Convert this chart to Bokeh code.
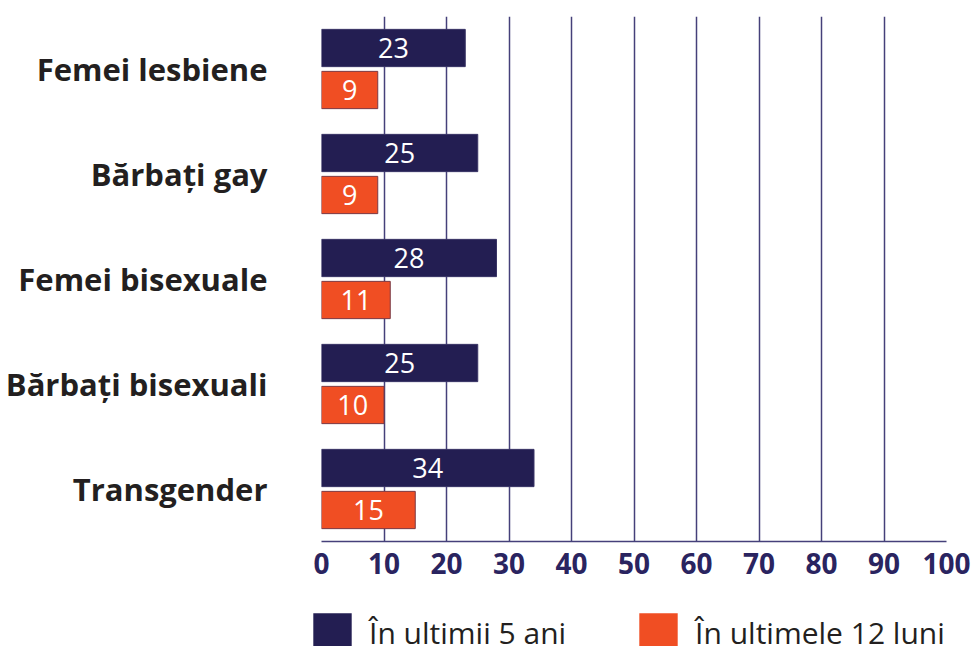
from bokeh.plotting import figure
from bokeh.models import ColumnDataSource, FactorRange, Range1d, Legend, LegendItem, FixedTicker
from bokeh.layouts import column
from bokeh.transform import dodge
from bokeh.core.properties import value
from bokeh.embed import file_html
from bokeh.resources import INLINE

categories = ["Femei lesbiene", "Bărbați gay", "Femei bisexuale", "Bărbați bisexuali", "Transgender"]
last_5_years = [23, 25, 28, 25, 34]
last_12_months = [9, 9, 11, 10, 15]
x_ticks = [0, 10, 20, 30, 40, 50, 60, 70, 80, 90, 100]
series_names = ["În ultimii 5 ani", "În ultimele 12 luni"]

NAVY = "#231e52"
ORANGE = "#f04e23"
GRID = "#45407a"
FONT = "Open Sans"

src = ColumnDataSource(dict(
    cat=categories,
    v5=last_5_years,
    v12=last_12_months,
    h5=[v / 2 for v in last_5_years],
    h12=[v / 2 for v in last_12_months],
    t5=[str(v) for v in last_5_years],
    t12=[str(v) for v in last_12_months],
))

p = figure(width=974, height=600, output_backend="svg", toolbar_location=None,
           y_range=FactorRange(factors=categories[::-1]),
           x_range=Range1d(0, 100),
           min_border_left=321, min_border_right=28, min_border_top=16, min_border_bottom=59)
p.frame_align = False
p.outline_line_color = None
p.background_fill_color = "white"
p.border_fill_color = "white"

p.hbar(y=dodge("cat", 0.2, range=p.y_range), right="v5", left=0, height=0.355, source=src,
       fill_color=NAVY, line_color="#3a3566", line_width=1)
p.hbar(y=dodge("cat", -0.2, range=p.y_range), right="v12", left=0, height=0.355, source=src,
       fill_color=ORANGE, line_color="#7a3a45", line_width=1)

p.text(x="h5", y=dodge("cat", 0.2, range=p.y_range), text="t5", source=src,
       text_align="center", text_baseline="middle", text_color="white",
       text_font=value(FONT), text_font_size="27px")
p.text(x="h12", y=dodge("cat", -0.2, range=p.y_range), text="t12", source=src,
       text_align="center", text_baseline="middle", text_color="white",
       text_font=value(FONT), text_font_size="27px")

p.xaxis.ticker = FixedTicker(ticks=x_ticks)
p.xaxis.major_tick_line_color = None
p.xaxis.minor_tick_line_color = None
p.xaxis.axis_line_color = GRID
p.xaxis.axis_line_width = 1.5
p.xaxis.major_label_text_font = FONT
p.xaxis.major_label_text_font_size = "28px"
p.xaxis.major_label_text_font_style = "bold"
p.xaxis.major_label_text_color = "#2a2460"
p.xaxis.major_label_standoff = 5

p.yaxis.axis_line_color = None
p.yaxis.major_tick_line_color = None
p.yaxis.minor_tick_line_color = None
p.yaxis.major_label_text_font = FONT
p.yaxis.major_label_text_font_size = "31px"
p.yaxis.major_label_text_font_style = "bold"
p.yaxis.major_label_text_color = "#231f20"
p.yaxis.major_label_standoff = 48

p.xgrid.grid_line_color = GRID
p.xgrid.grid_line_width = 1.5
p.ygrid.grid_line_color = None

# legend strip below the chart (its bars lie outside its view; only the legend shows)
lg = figure(width=974, height=46, output_backend="svg", toolbar_location=None,
            x_range=Range1d(-2, -1), y_range=FactorRange(factors=categories),
            x_axis_location=None, y_axis_location=None,
            min_border_left=0, min_border_right=0, min_border_top=0, min_border_bottom=0)
lg.frame_align = False
lg.grid.grid_line_color = None
lg.outline_line_color = None
lg.background_fill_color = "white"
lg.border_fill_color = "white"
l5 = lg.hbar(y="cat", right="v5", left=0, height=0.5, source=src, fill_color=NAVY, line_color=None)
l12 = lg.hbar(y="cat", right="v12", left=0, height=0.5, source=src, fill_color=ORANGE, line_color=None)

legend = Legend(items=[LegendItem(label=series_names[0], renderers=[l5]),
                       LegendItem(label=series_names[1], renderers=[l12])],
                orientation="horizontal", location=(308, -10),
                glyph_width=48, glyph_height=48, label_standoff=13, spacing=68,
                padding=0, margin=0, border_line_color=None, background_fill_alpha=0,
                label_text_font=FONT, label_text_font_size="30px", label_text_color="#231f20",
                label_height=48)
lg.add_layout(legend, "center")

layout = column(p, lg, spacing=0)
open("out.html", "w").write(file_html(layout, INLINE))
